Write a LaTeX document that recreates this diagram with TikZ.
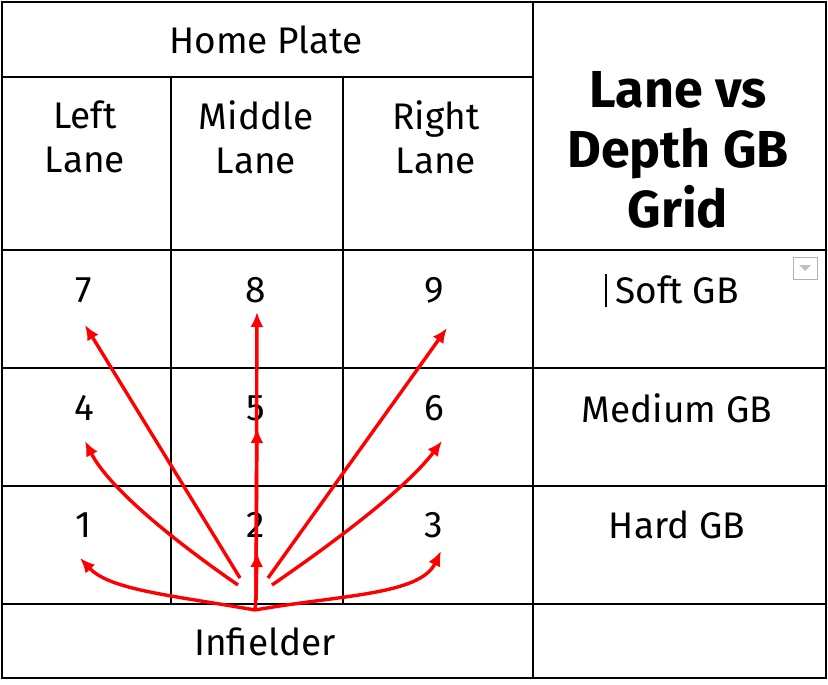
\documentclass[tikz,border=0pt]{standalone}
\usepackage{fontspec}
\setmainfont{Fira Sans}
\usetikzlibrary{arrows.meta}
\begin{document}
\begin{tikzpicture}[x=1pt,y=-1pt,
  grid/.style={black,line width=1.4pt},
  lbl/.style={font=\fontsize{37}{44}\selectfont,align=center},
  arr/.style={red,line width=3.4pt,-{Latex[length=15pt,width=13pt]}}]
\useasboundingbox (0,0) rectangle (828,685);
\fill[white] (0,0) rectangle (828,685);
\draw[grid] (2,2) rectangle (826,678);
\draw[grid] (533,2) -- (533,678);
\draw[grid] (2,77) -- (533,77);
\foreach \y in {250,368,486,604} \draw[grid] (2,\y) -- (826,\y);
\draw[grid] (171,77) -- (171,604);
\draw[grid] (343,77) -- (343,604);
\node[lbl] (hp) at (266,40) {Home Plate};
\node[lbl] (ll) at (85,137) {Left\\Lane};
\node[lbl] (ml) at (256,137) {Middle\\Lane};
\node[lbl] (rl) at (436,137) {Right\\Lane};
\node[font=\fontsize{52}{60}\selectfont\bfseries,align=center] (t) at (678,150) {Lane vs\\Depth GB\\Grid};
\node[lbl] (n7) at (84,290) {7};
\node[lbl] (n8) at (256,290) {8};
\node[lbl] (n9) at (434,290) {9};
\node[lbl] (n4) at (84,408) {4};
\node[lbl] (n5) at (256,408) {5};
\node[lbl] (n6) at (434,408) {6};
\node[lbl] (n1) at (84,525) {1};
\node[lbl] (n2) at (256,525) {2};
\node[lbl] (n3) at (434,525) {3};
\node[lbl] (s) at (677,290) {Soft GB};
\node[lbl] (m) at (677,408) {Medium GB};
\node[lbl] (h) at (677,525) {Hard GB};
\node[lbl] (inf) at (265,642) {Infielder};
\draw[gray!60,fill=white] (793,257) rectangle (817,279);
\fill[gray!50] (799,265) -- (811,265) -- (805,271) -- cycle;
\draw[black,line width=1.2pt] (606,274) -- (606,307);
\coordinate (o) at (255,610);
\coordinate (t7) at (85,325); \coordinate (t8) at (257,312);
\coordinate (t9) at (447,328); \coordinate (t4) at (85,441);
\coordinate (t5) at (257,428); \coordinate (t6) at (442,441);
\coordinate (t1) at (80,558); \coordinate (t2) at (257,552);
\coordinate (t3) at (441,551);
\draw[arr] (240,578) -- (t7);
\draw[arr] (256,600) -- (t8);
\draw[arr] (268,578) -- (t9);
\draw[arr] (256,590) -- (t5);
\draw[arr] (256,600) -- (t2);
\draw[arr] (238,585) .. controls (180,545) and (110,490) .. (t4);
\draw[arr] (272,585) .. controls (330,545) and (405,490) .. (t6);
\draw[arr] (o) .. controls (170,595) and (110,590) .. (t1);
\draw[arr] (o) .. controls (340,595) and (420,595) .. (t3);
\draw[red,line width=3.4pt] (o) -- (256,595);
\end{tikzpicture}
\end{document}
